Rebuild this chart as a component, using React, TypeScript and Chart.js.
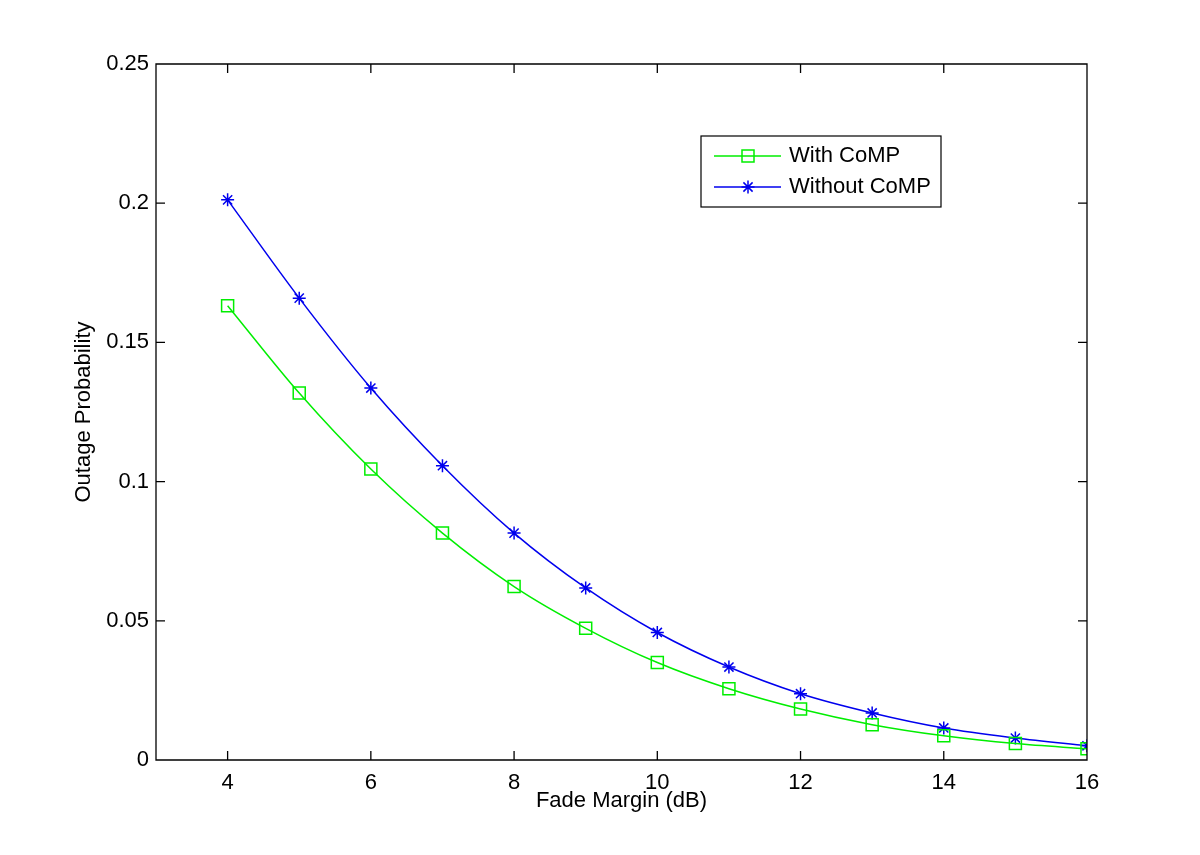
import React, { useEffect, useRef } from "react";
import { Chart, registerables } from "chart.js";

Chart.register(...registerables);

const fadeMargin = [4, 5, 6, 7, 8, 9, 10, 11, 12, 13, 14, 15, 16];
const withCoMP = [0.1632, 0.1318, 0.1045, 0.0815, 0.0623, 0.0473, 0.035, 0.0256, 0.0183, 0.0127, 0.0087, 0.0059, 0.004];
const withoutCoMP = [0.2012, 0.1659, 0.1336, 0.1057, 0.0815, 0.0618, 0.0458, 0.0334, 0.0238, 0.0169, 0.0115, 0.0079, 0.0051];
const xTickValues = [4, 6, 8, 10, 12, 14, 16];
const yTickValues = [0, 0.05, 0.1, 0.15, 0.2, 0.25];
const yTickLabels = ["0", "0.05", "0.1", "0.15", "0.2", "0.25"];
const seriesNames = ["With CoMP", "Without CoMP"];

const FONT = "'Liberation Sans', Arial, Helvetica, sans-serif";

function drawMarker(ctx: CanvasRenderingContext2D, style: string, x: number, y: number, color: string) {
  ctx.save();
  ctx.strokeStyle = color;
  ctx.lineWidth = 1.5;
  ctx.beginPath();
  if (style === "rect") {
    const h = 6;
    ctx.rect(x - h, y - h, 2 * h, 2 * h);
  } else {
    const r = 6.5;
    const d = r * Math.SQRT1_2;
    ctx.moveTo(x - r, y); ctx.lineTo(x + r, y);
    ctx.moveTo(x, y - r); ctx.lineTo(x, y + r);
    ctx.moveTo(x - d, y - d); ctx.lineTo(x + d, y + d);
    ctx.moveTo(x - d, y + d); ctx.lineTo(x + d, y - d);
  }
  ctx.stroke();
  ctx.restore();
}

const boxPlugin = {
  id: "boxPlugin",
  afterDatasetsDraw(chart: any) {
    const { ctx, chartArea } = chart;
    const { left, right, top, bottom } = chartArea;
    const xs = chart.scales.x;
    const ys = chart.scales.y;
    const tl = 9;
    ctx.save();
    ctx.strokeStyle = "#000";
    ctx.lineWidth = 1.3;
    ctx.beginPath();
    ctx.rect(left, top, right - left, bottom - top);
    xTickValues.forEach((v) => {
      const px = xs.getPixelForValue(v);
      ctx.moveTo(px, bottom); ctx.lineTo(px, bottom - tl);
      ctx.moveTo(px, top); ctx.lineTo(px, top + tl);
    });
    yTickValues.forEach((v) => {
      const py = ys.getPixelForValue(v);
      ctx.moveTo(left, py); ctx.lineTo(left + tl, py);
      ctx.moveTo(right, py); ctx.lineTo(right - tl, py);
    });
    ctx.stroke();

    // legend
    const bx = 701, by = 136, bw = 240, bh = 71;
    ctx.fillStyle = "#fff";
    ctx.fillRect(bx, by, bw, bh);
    ctx.lineWidth = 1.2;
    ctx.strokeRect(bx, by, bw, bh);
    const rows = [156, 187];
    chart.data.datasets.forEach((ds: any, i: number) => {
      const y = rows[i];
      ctx.strokeStyle = ds.borderColor;
      ctx.lineWidth = 1.5;
      ctx.beginPath();
      ctx.moveTo(714, y); ctx.lineTo(781, y);
      ctx.stroke();
      drawMarker(ctx, ds.pointStyle, 748, y, ds.borderColor);
      ctx.fillStyle = "#000";
      ctx.font = `22px ${FONT}`;
      ctx.textBaseline = "middle";
      ctx.textAlign = "left";
      ctx.fillText(ds.label, 789, y);
    });
    ctx.restore();
  },
};

export default function App() {
  const ref = useRef<HTMLCanvasElement>(null);
  useEffect(() => {
    document.body.style.margin = "0";
    const canvas = ref.current!;
    const chart = new Chart(canvas, {
      type: "line",
      data: {
        datasets: [
          {
            label: seriesNames[0],
            data: fadeMargin.map((x, i) => ({ x, y: withCoMP[i] })),
            borderColor: "#00ee00",
            backgroundColor: "rgba(0,0,0,0)",
            borderWidth: 1.5,
            pointStyle: "rect",
            pointRadius: 8.5,
            pointBorderWidth: 1.5,
            pointBackgroundColor: "rgba(0,0,0,0)",
            cubicInterpolationMode: "monotone",
          },
          {
            label: seriesNames[1],
            data: fadeMargin.map((x, i) => ({ x, y: withoutCoMP[i] })),
            borderColor: "#0000ee",
            backgroundColor: "rgba(0,0,0,0)",
            borderWidth: 1.5,
            pointStyle: "star",
            pointRadius: 6.5,
            pointBorderWidth: 1.5,
            pointBackgroundColor: "rgba(0,0,0,0)",
            cubicInterpolationMode: "monotone",
          },
        ],
      },
      options: {
        responsive: false,
        animation: false,
        devicePixelRatio: 1,
        layout: { padding: { top: 64, right: 113, left: 0, bottom: 0 } },
        plugins: { legend: { display: false }, tooltip: { enabled: false } },
        scales: {
          x: {
            type: "linear",
            min: 3,
            max: 16,
            grid: { display: false, drawTicks: false },
            border: { display: false },
            afterBuildTicks: (s: any) => {
              s.ticks = xTickValues.map((v) => ({ value: v }));
            },
            afterFit: (s: any) => {
              s.height = 95;
            },
            ticks: {
              color: "#000",
              font: { family: FONT, size: 22 },
              padding: 10,
              maxRotation: 0,
              autoSkip: false,
              callback: (v: any) => String(v),
            },
            title: {
              display: true,
              text: "Fade Margin (dB)",
              color: "#000",
              font: { family: FONT, size: 22 },
              padding: { top: 0, bottom: 41 },
            },
          },
          y: {
            type: "linear",
            min: 0,
            max: 0.25,
            grid: { display: false, drawTicks: false },
            border: { display: false },
            afterBuildTicks: (s: any) => {
              s.ticks = yTickValues.map((v) => ({ value: v }));
            },
            afterFit: (s: any) => {
              s.width = 156;
            },
            ticks: {
              color: "#000",
              font: { family: FONT, size: 22 },
              padding: 7,
              autoSkip: false,
              callback: (v: any) => {
                const idx = yTickValues.findIndex((t) => Math.abs(t - v) < 1e-9);
                return idx >= 0 ? yTickLabels[idx] : "";
              },
            },
            title: {
              display: true,
              text: "Outage Probability",
              color: "#000",
              font: { family: FONT, size: 22 },
              padding: { top: 71, bottom: 0 },
            },
          },
        },
      },
      plugins: [boxPlugin],
    } as any);
    return () => chart.destroy();
  }, []);
  return (
    <div style={{ width: 1200, height: 855, background: "#fff" }}>
      <canvas ref={ref} width={1200} height={855} style={{ display: "block" }} />
    </div>
  );
}
